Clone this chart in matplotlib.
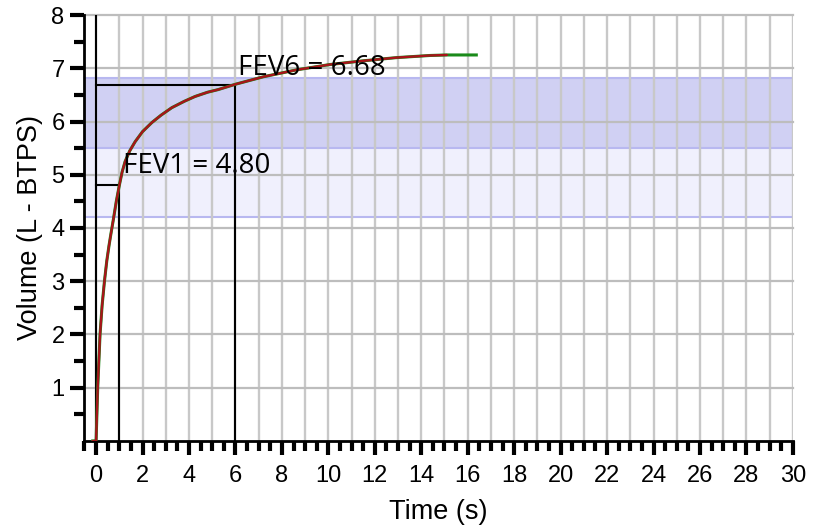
import matplotlib
matplotlib.use("Agg")
import matplotlib.pyplot as plt
import numpy as np

# volume-time curve
time_s = [-0.15, 0.0, 0.07, 0.17, 0.26, 0.36, 0.46, 0.56, 0.65, 0.74, 0.87, 1.0, 1.12, 1.25,
          1.45, 1.68, 2.0, 2.4, 2.8, 3.26, 3.8, 4.26, 4.8, 5.26, 6.0, 7.2, 8.63, 10.06,
          11.5, 12.93, 14.37, 15.1, 15.8, 16.37]
volume = [0.0, 0.0, 1.0, 2.0, 2.55, 3.0, 3.38, 3.68, 3.92, 4.15, 4.5, 4.8, 5.05, 5.25,
          5.45, 5.62, 5.81, 5.98, 6.12, 6.26, 6.38, 6.47, 6.55, 6.6, 6.7, 6.84, 6.97, 7.07,
          7.14, 7.2, 7.24, 7.25, 7.25, 7.25]
red_end = 15.6  # красная линия кончается раньше зелёной

fev1_t, fev1 = 1.0, 4.80
fev6_t, fev6 = 6.0, 6.68
band_dark = (5.5, 6.82)
band_light = (4.2, 5.5)

fig = plt.figure(figsize=(8.18, 5.29), dpi=100)
ax = fig.add_axes([0.1027, 0.1664, 0.8666, 0.8052])
ax.set_xlim(-0.52, 30)
ax.set_ylim(0, 8)

ax.axhspan(*band_light, color="#f0f0fd", zorder=0, lw=0)
ax.axhspan(*band_dark, color="#d0d0f3", zorder=0, lw=0)
for yy in [band_light[0], band_dark[0], band_dark[1]]:
    ax.axhline(yy, color="#b8b8f0", lw=1.5, zorder=0.5)

for xx in range(0, 31):
    ax.axvline(xx, color="#c8c8c8", lw=1.7, zorder=1)
for yy in range(1, 9):
    ax.axhline(yy, color="#bdbdbd", lw=1.6, zorder=1, clip_on=False)

ax.axvline(0, color="black", lw=1.5, zorder=2)
ax.plot([0, fev1_t], [fev1, fev1], color="black", lw=1.5, zorder=2)
ax.plot([fev1_t, fev1_t], [0, fev1], color="black", lw=1.5, zorder=2)
ax.plot([0, fev6_t], [fev6, fev6], color="black", lw=1.5, zorder=2)
ax.plot([fev6_t, fev6_t], [0, fev6], color="black", lw=1.5, zorder=2)

t = np.array(time_s)
v = np.array(volume)
ax.plot(t, v, color="#1a8a1a", lw=2.2, zorder=3)
m = t <= red_end
ax.plot(t[m], v[m], color="#a8141a", lw=1.7, zorder=4, solid_capstyle="round")

ax.text(1.15, 5.03, "FEV1 = 4.80", fontsize=20, family="Open Sans", zorder=5)
ax.text(6.1, 6.87, "FEV6 = 6.68", fontsize=20, family="Open Sans", zorder=5)

for s in ["top", "right"]:
    ax.spines[s].set_visible(False)
ax.spines["left"].set_linewidth(2)
ax.spines["bottom"].set_linewidth(2)

ax.set_xticks(range(0, 31, 2))
ax.set_xticks(np.arange(-0.5, 30.01, 0.5), minor=True)
ax.set_yticks(range(1, 9))
ax.set_yticks(np.arange(0.5, 8.01, 0.5), minor=True)
ax.tick_params(axis="both", which="major", length=10, width=3, labelsize=17, direction="out")
ax.tick_params(axis="both", which="minor", length=7, width=3, direction="out")
ax.tick_params(axis="x", pad=7)
ax.tick_params(axis="y", pad=4)
for lab in ax.get_xticklabels() + ax.get_yticklabels():
    lab.set_family("Liberation Sans")

ax.set_xlabel("Time (s)", fontsize=19.5, family="Liberation Sans", labelpad=9)
ax.set_ylabel("Volume (L - BTPS)", fontsize=19.5, family="Liberation Sans", labelpad=6)

fig.savefig("out.png", dpi=100)
